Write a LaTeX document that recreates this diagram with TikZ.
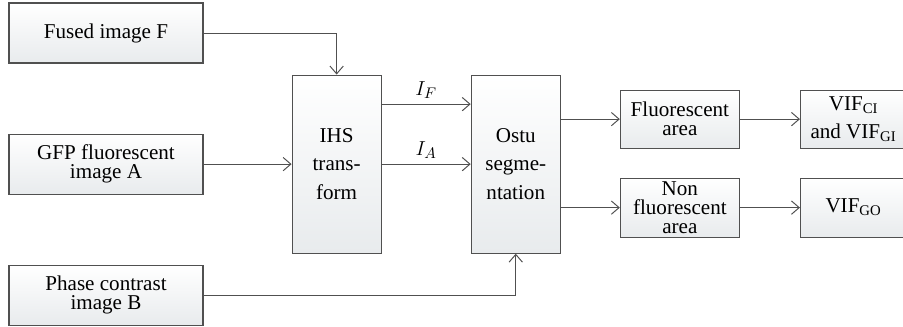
\documentclass[tikz,border=0pt]{standalone}
\usepackage{fontspec}
\setmainfont{Liberation Serif}
\usetikzlibrary{arrows.meta,calc,positioning}
\definecolor{kant}{RGB}{80,80,80}
\definecolor{bund}{RGB}{232,235,237}
\tikzset{
    >={Straight Barb[length=5.5pt,width=9.5pt]},
    boks/.style={
           rectangle,
           draw=kant, line width=0.8pt,
           top color=white, bottom color=bund,
           minimum width=4.85cm,
           minimum height=1.5cm,
           inner sep=2pt,
           align=center,
           font=\fontsize{15}{13.5}\selectfont},
    hojboks/.style={
           boks,
           minimum width=2.225cm,
           minimum height=4.45cm,
           font=\fontsize{15}{20.5}\selectfont},
    pil/.style={
           ->,
           draw=kant,
           line width=0.7pt}
}

\begin{document}
\begin{tikzpicture}[node distance=1.75cm]

        \useasboundingbox (0,0) rectangle (22.575,8.175);

        \node[boks] (fused) at (2.65,7.35) {Fused image F};
        \node[boks, below=of fused] (gfp) {GFP fluorescent\\image A};
        \node[boks, below=of gfp] (phase) {Phase contrast\\image B};
        \node[hojboks, right=2.2cm of gfp] (ihs) {IHS\\trans-\\form};
        \node[hojboks, right=2.225cm of ihs] (ostu) {Ostu\\segme-\\ntation};
        \node[boks, minimum width=2.975cm, minimum height=1.45cm,
              right=1.475cm of ostu, yshift=1.125cm] (fluo) {Fluorescent\\area};
        \node[boks, minimum width=2.975cm, minimum height=1.475cm,
              right=1.475cm of ostu, yshift=-1.0875cm] (nonfluo) {Non\\fluorescent\\area};
        \node[boks, minimum width=2.65cm, minimum height=1.45cm,
              font=\fontsize{15}{19.5}\selectfont,
              right=1.5cm of fluo] (vifci) {VIF\textsubscript{CI}\\and VIF\textsubscript{GI}};
        \node[boks, minimum width=2.65cm, minimum height=1.475cm,
              right=1.5cm of nonfluo] (vifgo) {VIF\textsubscript{GO}};

        \draw[pil] (fused) -| (ihs);
        \draw[pil] (gfp) -- (ihs);
        \draw[pil] (phase) -| (ostu);

        \draw[pil] ([yshift=1.5cm]ihs.east) -- node[above, font=\fontsize{15}{16}\selectfont] {$I_F$} ([yshift=1.5cm]ostu.west);
        \draw[pil] (ihs) -- node[above, font=\fontsize{15}{16}\selectfont] {$I_A$} (ostu);

        \draw[pil] (ostu.east |- fluo) -- (fluo);
        \draw[pil] (ostu.east |- nonfluo) -- (nonfluo);
        \draw[pil] (fluo) -- (vifci);
        \draw[pil] (nonfluo) -- (vifgo);
    \end{tikzpicture}
\end{document}
